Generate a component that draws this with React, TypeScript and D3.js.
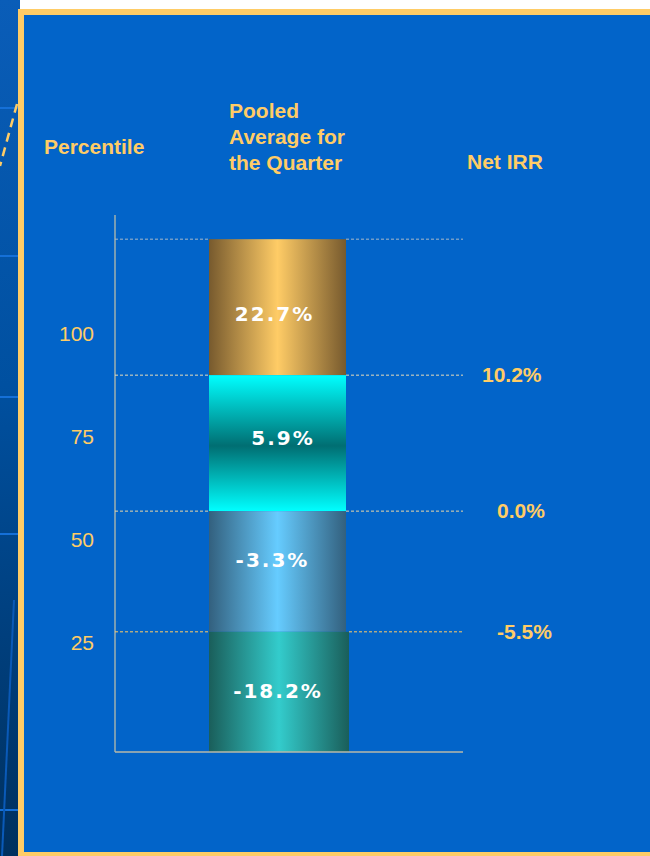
import React from "react";
import * as d3 from "d3";

const percentileTicks = [100, 75, 50, 25];
// segment boundaries (in percentile-scale units), top to bottom
const segmentBounds = [122.7, 89.8, 56.9, 27.7, -1.4];
const segmentLabels = ["22.7%", "5.9%", "-3.3%", "-18.2%"];
const segmentLabelDx = [-3, 5.5, -5, -1];
const segmentLabelDy = [14, 2, -4.5, 6];
const netIrrLabels = ["10.2%", "0.0%", "-5.5%"];
const netIrrX = [482, 497, 497];
const headerPooled = ["Pooled", "Average for", "the Quarter"];

const W = 650;
const H = 856;
const GOLD = "#FFCC66";

export default function App() {
  const y = d3.scaleLinear().domain([0, 100]).range([746.3, 333]);
  const axisX = 115;
  const axisRight = 463;
  const barX0 = 209;
  const barX1 = 346;
  const axisTop = 215;
  const axisBottom = 752;
  const fills = ["url(#gGold)", "url(#gCyan)", "url(#gBlue)", "url(#gTeal)"];
  const lineColors = ["#A8B8C8", "#E8DDB8", "#EAD8A8", GOLD];

  return (
    <svg
      width={W}
      height={H}
      style={{ position: "absolute", left: 0, top: 0, display: "block" }}
      fontFamily="Arial, 'Liberation Sans', sans-serif"
    >
      <defs>
        <linearGradient id="gStrip" x1="0" y1="0" x2="0" y2="1">
          <stop offset="0" stopColor="#0A5DB8" />
          <stop offset="0.45" stopColor="#0050A0" />
          <stop offset="1" stopColor="#00305E" />
        </linearGradient>
        <linearGradient id="gGold" x1="0" y1="0" x2="1" y2="0">
          <stop offset="0" stopColor="#775A2E" />
          <stop offset="0.5" stopColor="#FFCC66" />
          <stop offset="1" stopColor="#775A2E" />
        </linearGradient>
        <linearGradient id="gCyan" x1="0" y1="0" x2="0" y2="1">
          <stop offset="0" stopColor="#00FFFF" />
          <stop offset="0.52" stopColor="#006E72" />
          <stop offset="1" stopColor="#00FFFF" />
        </linearGradient>
        <linearGradient id="gBlue" x1="0" y1="0" x2="1" y2="0">
          <stop offset="0" stopColor="#33607E" />
          <stop offset="0.5" stopColor="#66CCFF" />
          <stop offset="1" stopColor="#33607E" />
        </linearGradient>
        <linearGradient id="gTeal" x1="0" y1="0" x2="1" y2="0">
          <stop offset="0" stopColor="#1A5E5A" />
          <stop offset="0.5" stopColor="#33CCCC" />
          <stop offset="1" stopColor="#1A5E5A" />
        </linearGradient>
      </defs>

      {/* left decorative strip */}
      <rect x={0} y={0} width={20} height={H} fill="url(#gStrip)" />
      {[108, 256, 397, 534, 810].map((ly) => (
        <line key={ly} x1={0} x2={18} y1={ly} y2={ly} stroke="#1570D8" strokeWidth={2} />
      ))}
      <line x1={14} y1={600} x2={2} y2={856} stroke="#0A5AB8" strokeWidth={2} />
      <line x1={17} y1={104} x2={0} y2={166} stroke={GOLD} strokeWidth={2.5} strokeDasharray="9 6" />

      {/* main panel */}
      <rect x={18} y={9} width={W} height={H} fill={GOLD} />
      <rect x={24} y={15} width={W} height={837} fill="#0264C9" />

      {/* headers */}
      <g fill={GOLD} fontWeight="bold" fontSize={21}>
        <text x={44} y={154}>Percentile</text>
        {headerPooled.map((t, i) => (
          <text key={t} x={229} y={118 + i * 26}>{t}</text>
        ))}
        <text x={467} y={169}>Net IRR</text>
      </g>

      {/* axes */}
      <line x1={axisX} x2={axisX} y1={axisTop} y2={axisBottom} stroke="#C8C4A8" strokeWidth={1.2} />

      {/* bar segments */}
      {segmentLabels.map((lab, i) => {
        const yt = y(segmentBounds[i]);
        const yb = y(segmentBounds[i + 1]);
        const x1 = i === 3 ? barX1 + 3 : barX1;
        return (
          <g key={lab}>
            <rect x={barX0} y={yt} width={x1 - barX0} height={yb - yt} fill={fills[i]} />
            <text
              x={(barX0 + x1) / 2 + segmentLabelDx[i]}
              y={(yt + yb) / 2 + segmentLabelDy[i]}
              textAnchor="middle"
              fill="#FFFFFF"
              fontWeight="bold"
              fontSize={20}
              letterSpacing={2}
              fontFamily="'DejaVu Sans', Verdana, sans-serif"
            >
              {lab}
            </text>
          </g>
        );
      })}

      {/* dashed reference lines */}
      {segmentBounds.slice(0, 4).map((b, i) => (
        <g key={b}>
          <line x1={axisX} x2={barX0} y1={y(b)} y2={y(b)} stroke={lineColors[i]} strokeWidth={1} strokeDasharray="3 2" />
          <line x1={i === 3 ? barX1 + 3 : barX1} x2={axisRight} y1={y(b)} y2={y(b)} stroke={lineColors[i]} strokeWidth={1} strokeDasharray="3 2" />
        </g>
      ))}

      <line x1={axisX} x2={axisRight} y1={axisBottom} y2={axisBottom} stroke="#B8B8A8" strokeWidth={1.5} />

      {/* percentile tick labels */}
      {percentileTicks.map((t) => (
        <text key={t} x={94} y={y(t) + 7.5} textAnchor="end" fill={GOLD} fontSize={21}>
          {t}
        </text>
      ))}

      {/* Net IRR labels */}
      {netIrrLabels.map((t, i) => (
        <text key={t} x={netIrrX[i]} y={y(segmentBounds[i + 1]) + 7} fill={GOLD} fontWeight="bold" fontSize={21}>
          {t}
        </text>
      ))}
    </svg>
  );
}
